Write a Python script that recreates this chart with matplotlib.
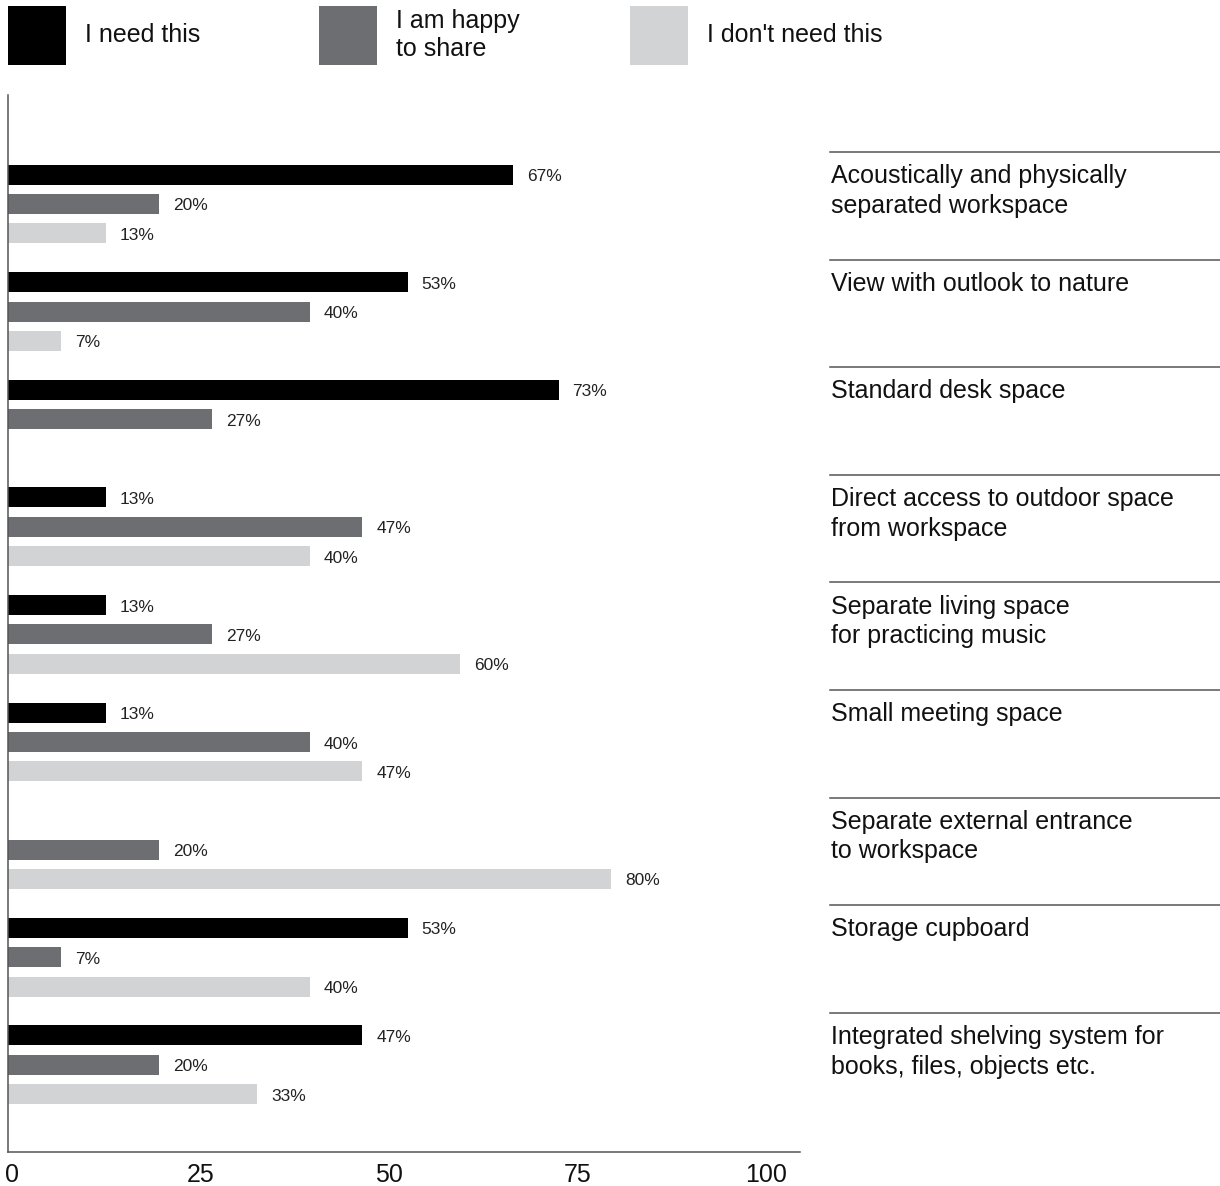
import numpy as np
import matplotlib.pyplot as plt
from matplotlib import transforms

plt.rcParams.update({
    "font.family": ["Liberation Sans", "DejaVu Sans"],
    "font.size": 18,
})

categories = [
    "Acoustically and physically\nseparated workspace",
    "View with outlook to nature",
    "Standard desk space",
    "Direct access to outdoor space\nfrom workspace",
    "Separate living space\nfor practicing music",
    "Small meeting space",
    "Separate external entrance\nto workspace",
    "Storage cupboard",
    "Integrated shelving system for\nbooks, files, objects etc.",
]
need = [67, 53, 73, 13, 13, 13, 0, 53, 47]
share = [20, 40, 27, 47, 27, 40, 20, 7, 20]
dont_need = [13, 7, 0, 40, 60, 47, 80, 40, 33]

series_names = ["I need this", "I am happy\nto share", "I don't need this"]
colors = ["#000000", "#6d6e71", "#d1d3d4"]
x_ticks = [0, 25, 50, 75, 100]

fig = plt.figure(figsize=(12.2, 11.86), dpi=100)
ax = fig.add_axes([0.0066, 0.0287, 0.649, 0.8912])

step = 0.2725
bar_h = 0.186
groups = np.arange(len(categories))
for k, (vals, col) in enumerate(zip([need, share, dont_need], colors)):
    ys = groups + (k - 1) * step
    for y, v in zip(ys, vals):
        if v <= 0:
            continue
        ax.barh(y, v, height=bar_h, color=col, linewidth=0)
        ax.annotate(f"{v}%", (v, y), xytext=(14, -2), textcoords="offset pixels",
                    ha="left", va="center", fontsize=12.5, color="#222222")

ax.set_xlim(0, 105)
ax.set_ylim(8.81, -1.013)
ax.set_xticks(x_ticks)
ax.set_xticklabels([str(t) for t in x_ticks])
ax.set_yticks([])
ax.tick_params(axis="x", length=0, pad=8, labelsize=18, colors="#111111")
shift = transforms.ScaledTranslation(4 / 100, 0, fig.dpi_scale_trans)
for lbl in ax.get_xticklabels():
    lbl.set_transform(lbl.get_transform() + shift)
for side in ("top", "right"):
    ax.spines[side].set_visible(False)
for side in ("left", "bottom"):
    ax.spines[side].set_color("#555555")
    ax.spines[side].set_linewidth(1.1)

# category names on the right, each under a thin rule
trans = transforms.blended_transform_factory(fig.transFigure, ax.transData)
for g, name in zip(groups, categories):
    ax.plot([830 / 1220, 1.0], [g - 0.483, g - 0.483], transform=trans,
            color="#555555", lw=1.1, clip_on=False)
    ax.text(831 / 1220, g - 0.37, name, transform=trans, ha="left", va="top",
            fontsize=18, linespacing=1.3, color="#111111")

# legend swatches along the top
sw_x = [8, 319, 630]
for x0, col, lab in zip(sw_x, colors, series_names):
    fig.patches.append(plt.Rectangle((x0 / 1220, 1 - 65 / 1186), 58 / 1220, 59 / 1186,
                                     transform=fig.transFigure, color=col, lw=0))
    fig.text((x0 + 77) / 1220, 1 - 35 / 1186, lab, ha="left", va="center",
             fontsize=18, linespacing=1.2, color="#111111")

fig.savefig("out.png", dpi=100)
